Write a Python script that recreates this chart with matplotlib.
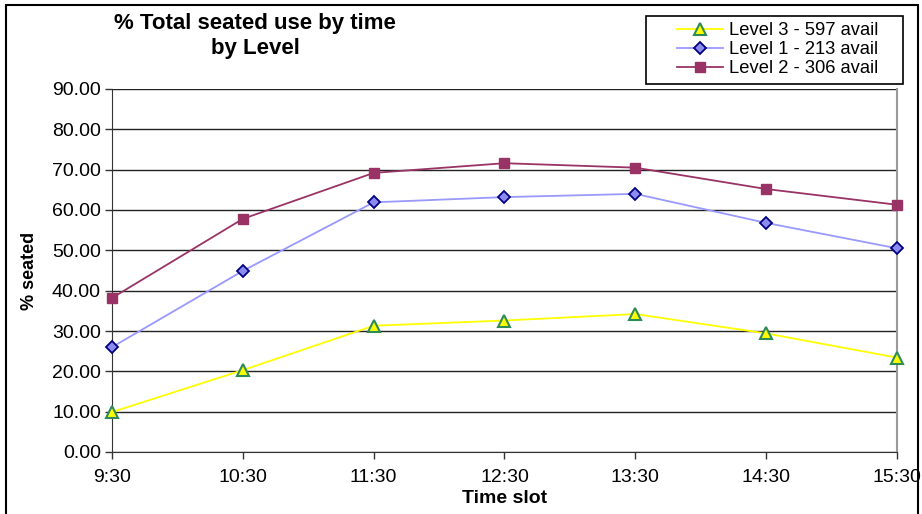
import matplotlib.pyplot as plt
from matplotlib.patches import Rectangle
from matplotlib.ticker import FormatStrFormatter

plt.rcParams['font.family'] = ['Liberation Sans', 'DejaVu Sans']

# data
time_slots = ['9:30', '10:30', '11:30', '12:30', '13:30', '14:30', '15:30']
level3 = [9.9, 20.3, 31.3, 32.6, 34.2, 29.4, 23.4]
level1 = [26.0, 44.9, 61.9, 63.2, 64.0, 56.8, 50.5]
level2 = [38.2, 57.8, 69.2, 71.6, 70.5, 65.2, 61.3]
series_names = ['Level 3 - 597 avail', 'Level 1 - 213 avail', 'Level 2 - 306 avail']

W, H = 922, 514
fig = plt.figure(figsize=(W/100, H/100), dpi=100)
ax = fig.add_axes([112/W, 1 - 452/H, (897 - 112)/W, (452 - 89)/H])

x = list(range(len(time_slots)))
ax.plot(x, level3, color='#ffff00', lw=1.3, marker='^', ms=8,
        mfc='#ffff00', mec='#2e8b57', mew=1.5, label=series_names[0], clip_on=False, zorder=5)
ax.plot(x, level1, color='#9999ff', lw=1.3, marker='D', ms=6.5,
        mfc='#8c8cf0', mec='#000080', mew=1.3, label=series_names[1], clip_on=False, zorder=5)
ax.plot(x, level2, color='#993366', lw=1.3, marker='s', ms=7,
        mfc='#993366', mec='#993366', label=series_names[2], clip_on=False, zorder=5)

ax.set_xlim(0, len(time_slots) - 1)
ax.set_ylim(0, 90)
ax.set_yticks(range(0, 91, 10))
ax.yaxis.set_major_formatter(FormatStrFormatter('%.2f'))
ax.set_xticks(x)
ax.set_xticklabels(time_slots)
ax.tick_params(axis='both', labelsize=14, color='#333333', length=5, width=1)
ax.tick_params(axis='y', pad=3)
ax.tick_params(axis='x', pad=7)
ax.grid(axis='y', color='#222222', lw=1)
ax.set_axisbelow(True)

ax.spines['top'].set_visible(False)
ax.spines['right'].set_color('#999999')
ax.spines['right'].set_linewidth(1.5)
ax.spines['left'].set_color('#333333')
ax.spines['bottom'].set_color('#333333')

ax.set_xlabel('Time slot', fontsize=14, fontweight='bold', labelpad=3)
ax.set_ylabel('% seated', fontsize=13, fontweight='bold', labelpad=10)

fig.text(255/W, 1 - 36/H, '% Total seated use by time\nby Level', ha='center', va='center',
         fontsize=16, fontweight='bold', linespacing=1.3)

# legend without its own frame, box drawn separately
leg = fig.legend(loc='upper left', bbox_to_anchor=(677/W, 1 - 22/H), fontsize=13.2,
                 frameon=False, borderpad=0, labelspacing=0.12, handlelength=2.5,
                 handletextpad=0.35, borderaxespad=0)
fig.patches.append(Rectangle((646/W, 1 - 84/H), (903 - 646)/W, (84 - 16)/H, transform=fig.transFigure,
                             fill=False, edgecolor='black', lw=1.2))

fig.patches.append(Rectangle((6/W, -0.02), (918 - 6)/W, (509 + 10)/H, transform=fig.transFigure,
                             fill=False, edgecolor='black', lw=1.5))

fig.savefig('out.png', dpi=100)
